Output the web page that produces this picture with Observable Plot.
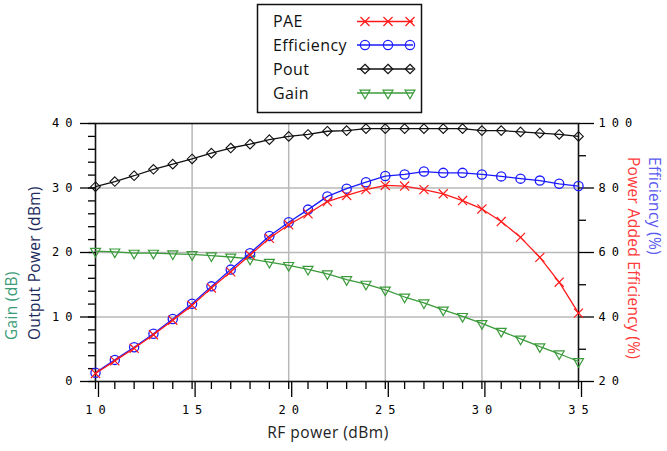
<!DOCTYPE html>
<html><head><meta charset="utf-8">
<script src="https://cdn.jsdelivr.net/npm/d3@7"></script>
<script src="https://cdn.jsdelivr.net/npm/@observablehq/plot@0.6"></script>
<style>
body{margin:0;background:#fff;}
#wrap{position:relative;width:667px;height:451px;overflow:hidden;}
#wrap svg{position:absolute;left:0;top:0;}
#wrap g[aria-label$="tick label"] text{letter-spacing:6px;}
</style></head><body><div id="wrap"></div>
<script>
// ---- data ----
const rfPower   = [10,11,12,13,14,15,16,17,18,19,20,21,22,23,24,25,26,27,28,29,30,31,32,33,34,35];
const pae       = [22.5,26.4,30.3,34.5,39.0,43.6,49.0,54.0,59.2,64.4,68.6,72.0,75.8,77.7,79.5,80.8,80.6,79.5,78.2,76.1,73.5,69.6,64.7,58.5,50.8,41.2];
const efficiency= [22.7,26.7,30.6,34.8,39.4,44.1,49.5,54.7,59.8,65.1,69.4,73.3,77.4,79.8,81.8,83.7,84.2,85.1,84.7,84.7,84.2,83.6,82.9,82.3,81.3,80.6];
const pout      = [30.2,31.0,31.9,32.9,33.7,34.5,35.4,36.2,36.8,37.5,38.0,38.3,38.8,38.9,39.2,39.2,39.2,39.2,39.2,39.2,38.9,38.9,38.7,38.5,38.3,38.0];
const gain      = [20.2,20.1,19.9,19.9,19.8,19.7,19.5,19.3,19.0,18.5,18.0,17.4,16.7,15.8,15.1,14.2,13.1,12.2,11.1,10.1,9.0,7.8,6.6,5.4,4.3,3.1];
const xTicks      = [10,15,20,25,30,35];
const xMinorTicks = [10,11,12,13,14,15,16,17,18,19,20,21,22,23,24,25,26,27,28,29,30,31,32,33,34,35];
const leftTicks   = [0,10,20,30,40];
const leftMinor   = [0,2,4,6,8,10,12,14,16,18,20,22,24,26,28,30,32,34,36,38,40];
const rightTicks  = [20,40,60,80,100];
const rightMinor  = [30,50,70,90];
const seriesNames = ["PAE","Efficiency","Pout","Gain"];
const xTitle = "RF power (dBm)";
const leftTitles = ["Gain (dB)","Output Power (dBm)"];
const rightTitles = ["Power Added Efficiency (%)","Efficiency (%)"];

// ---- styles ----
const colors = {PAE:"#ff1a1a", Efficiency:"#1a1aff", Pout:"#111111", Gain:"#3b9b3b"};
const toLeft = v => (v - 20) / 2; // right-axis (%) -> left scale units

const rows = rfPower.map((x, i) => ({x, pae: toLeft(pae[i]), eff: toLeft(efficiency[i]), pout: pout[i], gain: gain[i]}));

const gridStyle = {stroke:"#b8b8b8", strokeOpacity:1, strokeWidth:1.5};
const chart = Plot.plot({
  width: 667, height: 451,
  marginLeft: 95, marginRight: 89, marginTop: 123, marginBottom: 70,
  x: {domain: [10, 35]},
  y: {domain: [0, 40]},
  style: {fontFamily: "DejaVu Sans Mono", fontSize: "12px", color: "#000", background: "transparent"},
  marks: [
    Plot.gridX(xTicks.slice(1, -1), gridStyle),
    Plot.gridY(leftTicks.slice(1, -1), gridStyle),
    Plot.axisX({ticks: xMinorTicks, tickSize: 8, text: null, label: null, strokeWidth: 1.3}),
    Plot.axisX({ticks: xTicks, tickSize: 16, tickPadding: 8, dx: 3, label: null, strokeWidth: 1.3, tickFormat: d => String(d)}),
    Plot.axisY({ticks: leftMinor, tickSize: 7, text: null, label: null, strokeWidth: 1.3}),
    Plot.axisY({ticks: leftTicks, tickSize: 15, tickPadding: 2, label: null, strokeWidth: 1.3, tickFormat: d => String(d)}),
    Plot.axisY({anchor: "right", ticks: rightMinor.map(toLeft), tickSize: 7, text: null, label: null, strokeWidth: 1.3}),
    Plot.axisY({anchor: "right", ticks: rightTicks.map(toLeft), tickSize: 15, tickPadding: 5, label: null, strokeWidth: 1.3, tickFormat: d => String(d * 2 + 20)}),
    Plot.frame({stroke: "#111", strokeWidth: 1.6}),
    Plot.line(rows, {x: "x", y: "gain", stroke: colors.Gain, strokeWidth: 1.3}),
    Plot.dot(rows, {x: "x", y: "gain", symbol: "triangle", rotate: 180, r: 3.7, stroke: colors.Gain, fill: "none", strokeWidth: 1.2}),
    Plot.line(rows, {x: "x", y: "pout", stroke: colors.Pout, strokeWidth: 1.3}),
    Plot.dot(rows, {x: "x", y: "pout", symbol: "diamond2", r: 4.3, stroke: colors.Pout, fill: "none", strokeWidth: 1.1}),
    Plot.line(rows, {x: "x", y: "eff", stroke: colors.Efficiency, strokeWidth: 1.3}),
    Plot.dot(rows, {x: "x", y: "eff", symbol: "circle", r: 4.6, stroke: colors.Efficiency, fill: "none", strokeWidth: 1.3}),
    Plot.line(rows, {x: "x", y: "pae", stroke: colors.PAE, strokeWidth: 1.3}),
    Plot.dot(rows, {x: "x", y: "pae", symbol: "times", r: 4.2, stroke: colors.PAE, fill: "none", strokeWidth: 1.2})
  ]
});
const wrap = document.getElementById("wrap");
wrap.appendChild(chart);

// ---- overlay: titles and legend ----
const ov = d3.select(wrap).append("svg").attr("width", 667).attr("height", 451)
  .style("font-family", "'Open Sans', sans-serif").style("font-size", "15.5px");

ov.append("text").attr("x", 328).attr("y", 438).attr("text-anchor", "middle")
  .attr("fill", "#222").style("letter-spacing", "0.5px").text(xTitle);
ov.append("text").attr("transform", "translate(16.5,340) rotate(-90)")
  .attr("fill", "#3c9c78").style("letter-spacing", "0.3px").text(leftTitles[0]);
ov.append("text").attr("transform", "translate(40,340) rotate(-90)")
  .attr("fill", "#1c2a5c").style("letter-spacing", "0.3px").text(leftTitles[1]);
ov.append("text").attr("transform", "translate(628,157) rotate(90)")
  .attr("fill", "#ff3b3b").style("letter-spacing", "0.3px").text(rightTitles[0]);
ov.append("text").attr("transform", "translate(649,157) rotate(90)")
  .attr("fill", "#5a5af0").style("letter-spacing", "0.3px").text(rightTitles[1]);

// legend
ov.append("rect").attr("x", 257.5).attr("y", 4.5).attr("width", 164).attr("height", 108)
  .attr("fill", "white").attr("stroke", "#111").attr("stroke-width", 1.5);
const symbolFor = {PAE: d3.symbolTimes, Efficiency: d3.symbolCircle, Pout: d3.symbolDiamond2, Gain: d3.symbolTriangle};
const rFor = {PAE: 4.2, Efficiency: 4.6, Pout: 4.3, Gain: 3.7};
const rowY = [21.5, 45, 69, 93];
seriesNames.forEach((name, i) => {
  const y = rowY[i];
  ov.append("text").attr("x", 273).attr("y", y + 5.5).attr("fill", "#111")
    .style("font-size", "16px").style("letter-spacing", "0.4px").text(name);
  ov.append("line").attr("x1", 357).attr("x2", 413).attr("y1", y).attr("y2", y)
    .attr("stroke", colors[name]).attr("stroke-width", 1.3);
  [365, 388, 410].forEach(mx => {
    ov.append("path")
      .attr("d", d3.symbol(symbolFor[name], Math.PI * rFor[name] ** 2)())
      .attr("transform", `translate(${mx},${y})` + (name === "Gain" ? " rotate(180)" : ""))
      .attr("fill", "none").attr("stroke", colors[name]).attr("stroke-width", 1.2);
  });
});
</script></body></html>
